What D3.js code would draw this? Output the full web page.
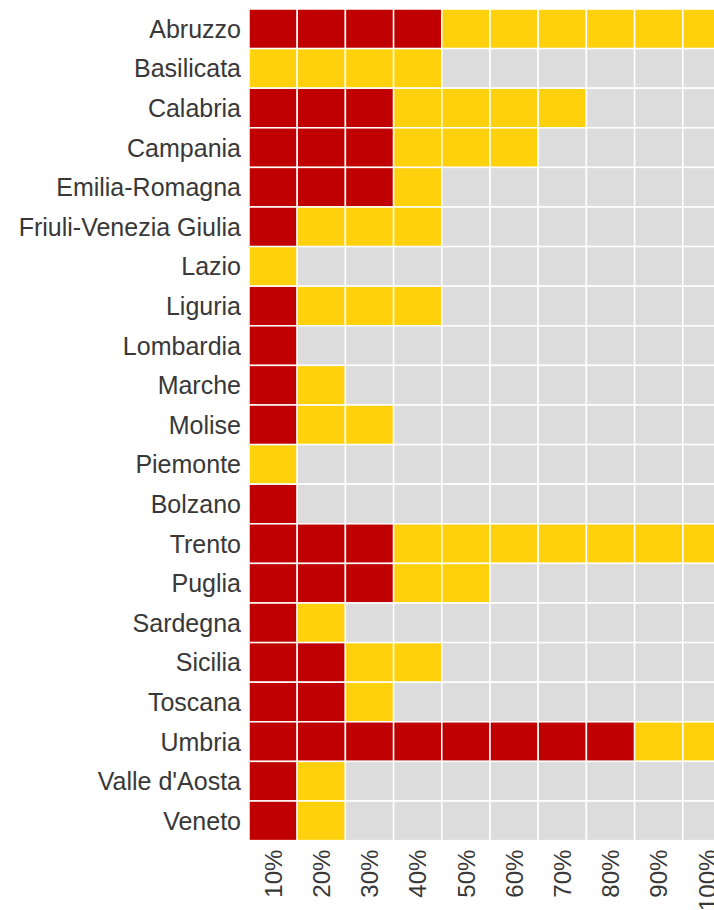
<!DOCTYPE html>
<html>
<head>
<meta charset="utf-8">
<script src="https://cdn.jsdelivr.net/npm/d3@7"></script>
<style>
  body { margin: 0; background: #fff; }
  svg text { font-family: "Liberation Sans", Arial, sans-serif; fill: #383838; }
</style>
</head>
<body>
<svg id="chart" width="714" height="910"></svg>
<script>
// Regions, top to bottom
var regions = ["Abruzzo", "Basilicata", "Calabria", "Campania", "Emilia-Romagna",
    "Friuli-Venezia Giulia", "Lazio", "Liguria", "Lombardia", "Marche", "Molise",
    "Piemonte", "Bolzano", "Trento", "Puglia", "Sardegna", "Sicilia", "Toscana",
    "Umbria", "Valle d'Aosta", "Veneto"];

// Steps of the x scale
var steps = ["10%", "20%", "30%", "40%", "50%", "60%", "70%", "80%", "90%", "100%"];

// how many steps are red, then how many yellow after them (per region)
var redSteps    = [4, 0, 3, 3, 3, 1, 0, 1, 1, 1, 1, 0, 1, 3, 3, 1, 2, 2, 8, 1, 1];
var yellowSteps = [6, 4, 4, 3, 1, 3, 1, 3, 0, 1, 2, 1, 0, 7, 2, 1, 2, 1, 2, 1, 1];

var colors = { red: "#c00000", yellow: "#ffd10c", none: "#dcdcdc" };

var svg = d3.select("#chart");

// Dimensions
var marginLeft = 249, marginTop = 9;
var colW = 48.2, rowH = 39.6;

var x = d3.scaleBand()
    .domain(steps)
    .range([marginLeft, marginLeft + colW * steps.length]);

var y = d3.scaleBand()
    .domain(regions)
    .range([marginTop, marginTop + rowH * regions.length]);

// build the cell table
var cells = [];
regions.forEach(function(r, i) {
    steps.forEach(function(s, j) {
        var kind = "none";
        if (j < redSteps[i]) kind = "red";
        else if (j < redSteps[i] + yellowSteps[i]) kind = "yellow";
        cells.push({ region: r, step: s, kind: kind });
    });
});

svg.append("g").selectAll("rect")
    .data(cells)
    .enter()
    .append("rect")
    .attr("x", function(d) { return x(d.step); })
    .attr("y", function(d) { return y(d.region); })
    .attr("width", x.bandwidth())
    .attr("height", y.bandwidth())
    .attr("fill", function(d) { return colors[d.kind]; })
    .attr("stroke", "#fff")
    .attr("stroke-width", 1.5);

// Axis
var yAxis = svg.append("g")
    .attr("transform", "translate(" + marginLeft + ",0)")
    .call(d3.axisLeft(y).tickSize(0).tickPadding(8));
yAxis.select(".domain").remove();
yAxis.selectAll("text")
    .style("font-size", "25px")
    .attr("dy", "0.36em");

var xAxis = svg.append("g")
    .attr("transform", "translate(0," + (marginTop + rowH * regions.length) + ")")
    .call(d3.axisBottom(x).tickSize(0));
xAxis.select(".domain").remove();
xAxis.selectAll("text")
    .style("font-size", "24px")
    .attr("transform", "rotate(-90)")
    .attr("text-anchor", "end")
    .attr("x", -9)
    .attr("y", 0)
    .attr("dy", "0.36em");
</script>
</body>
</html>
